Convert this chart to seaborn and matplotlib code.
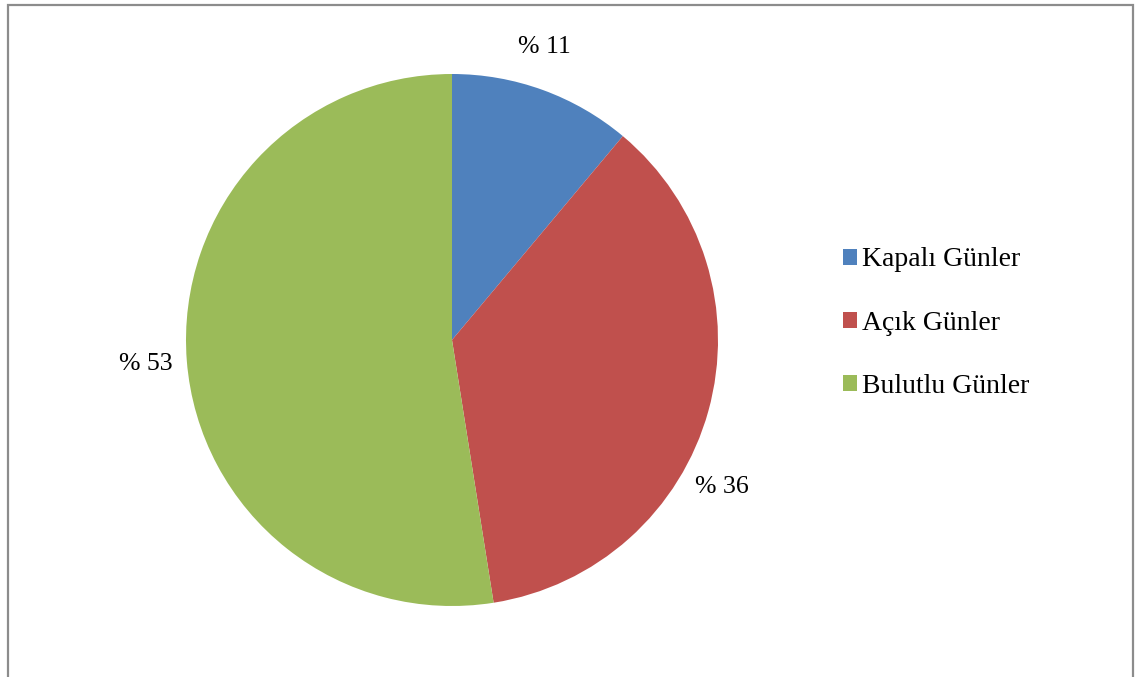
import numpy as np
import matplotlib
matplotlib.use('Agg')
import matplotlib.pyplot as plt
import seaborn as sns
from matplotlib.patches import Rectangle

sns.set_theme(style='white')
plt.rcParams['font.family'] = ['Liberation Serif', 'DejaVu Serif']

# data (wedge sizes, labels as printed)
categories = ['Kapalı Günler', 'Açık Günler', 'Bulutlu Günler']
values = [11.1, 36.4, 52.5]
pct_labels = ['% 11', '% 36', '% 53']
label_frac = [0.44, 0.6, 0.5]   # where along each wedge (clockwise) the label sits
colors = sns.color_palette(['#4F81BD', '#C0504D', '#9BBB59'])

fig = plt.figure(figsize=(11.44, 6.77), dpi=100)
ax = fig.add_axes([186 / 1144, 71 / 677, 532 / 1144, 532 / 677])

wedges, _ = ax.pie(values, colors=colors, startangle=90, counterclock=False,
                   wedgeprops=dict(linewidth=0))
ax.set_xlim(-1, 1)
ax.set_ylim(-1, 1)
ax.set_aspect('equal')

# percentage labels outside the wedges
for w, lab, f in zip(wedges, pct_labels, label_frac):
    ang = np.deg2rad(w.theta2 - f * (w.theta2 - w.theta1))
    ax.text(1.155 * np.cos(ang), 1.155 * np.sin(ang), lab, ha='center', va='center',
            fontsize=18.5, color='black')

fig.legend(wedges, categories, loc='center left',
           bbox_to_anchor=(843 / 1144, 1 - 323 / 677), frameon=False,
           fontsize=20, handlelength=0.5, handleheight=0.5,
           handletextpad=0.2, labelspacing=1.37, borderpad=0, borderaxespad=0,
           labelcolor='black')

# outer chart border
fig.patches.append(Rectangle((8 / 1144, -0.05), 1125 / 1144, 1.05 - 5 / 677,
                             transform=fig.transFigure, fill=False,
                             edgecolor='#8c8c8c', linewidth=1.6))

fig.savefig('out.png', dpi=100, facecolor='white')
